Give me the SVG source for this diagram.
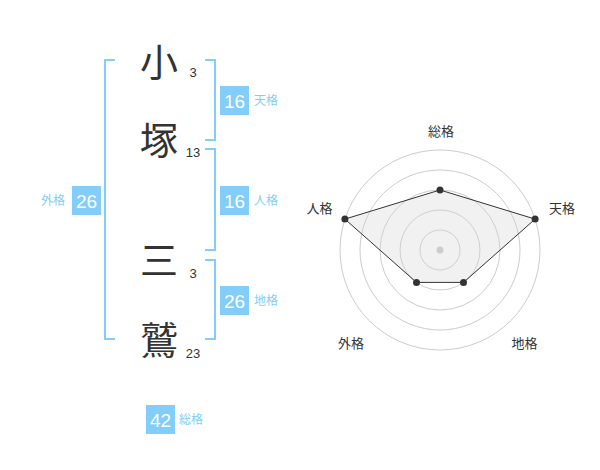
<svg xmlns="http://www.w3.org/2000/svg" width="600" height="470" viewBox="0 0 600 470">
<style>
.bg{fill:#ffffff}
.br{fill:none;stroke:#82cdf9;stroke-width:2}
.box{fill:#82cdf9}
.num{font-family:"Liberation Sans",Arial,sans-serif;font-size:19px;fill:#ffffff;text-anchor:middle}
.lab{font-family:"Noto Sans CJK JP","Noto Sans",sans-serif;font-size:12px;fill:#82cdf9}
.kanji{font-family:"Noto Sans CJK JP",sans-serif;font-size:38px;fill:#333333;text-anchor:middle}
.stk{font-family:"Liberation Sans",Arial,sans-serif;font-size:13px;fill:#333333;text-anchor:middle}
.ring{fill:none;stroke:#cccccc;stroke-width:1}
.poly{fill:#d8d8d8;fill-opacity:0.35;stroke:#333333;stroke-width:1}
.pt{fill:#333333}
.rl{font-family:"Noto Sans CJK JP","Noto Sans",sans-serif;font-size:13px;fill:#333333;text-anchor:middle}
</style>
<rect class="bg" x="0" y="0" width="600" height="470"/>
<g id="connectors">
<path class="br" d="M115,60 H105 V339 H115"/>
<path class="br" d="M205,60 H215 V140 H205"/>
<path class="br" d="M205,149 H215 V250 H205"/>
<path class="br" d="M205,260 H215 V339 H205"/>
</g>
<g id="char-ko"><text class="kanji" x="159" y="76">小</text><text class="stk" x="193" y="77">3</text></g>
<g id="char-tsuka"><text class="kanji" x="159" y="154">塚</text><text class="stk" x="193" y="157">13</text></g>
<g id="char-mi"><text class="kanji" x="159" y="274">三</text><text class="stk" x="193" y="278">3</text></g>
<g id="char-washi"><text class="kanji" x="159" y="354">鷲</text><text class="stk" x="193" y="358">23</text></g>
<g id="tenkaku"><rect class="box" x="220" y="86" width="29" height="29"/><text class="num" x="234.5" y="107.5">16</text><text class="lab" x="254" y="105">天格</text></g>
<g id="jinkaku"><rect class="box" x="220" y="186" width="29" height="29"/><text class="num" x="234.5" y="207.5">16</text><text class="lab" x="254" y="205">人格</text></g>
<g id="chikaku"><rect class="box" x="220" y="286" width="29" height="29"/><text class="num" x="234.5" y="307.5">26</text><text class="lab" x="254" y="305">地格</text></g>
<g id="gaikaku"><rect class="box" x="72" y="186" width="29" height="29"/><text class="num" x="86.5" y="207.5">26</text><text class="lab" x="41" y="205">外格</text></g>
<g id="soukaku"><rect class="box" x="146" y="405" width="29" height="29"/><text class="num" x="160.5" y="426.5">42</text><text class="lab" x="179" y="424">総格</text></g>
<g id="radar">
<circle class="ring" cx="440" cy="250" r="20"/>
<circle class="ring" cx="440" cy="250" r="40"/>
<circle class="ring" cx="440" cy="250" r="60"/>
<circle class="ring" cx="440" cy="250" r="80"/>
<circle class="ring" cx="440" cy="250" r="100"/>
<polygon class="poly" points="440,190 535.1,219.1 463.5,282.4 416.5,282.4 344.9,219.1"/>
<circle cx="440" cy="250" r="3.5" fill="#cccccc"/>
<circle class="pt" cx="440" cy="190" r="3.5"/>
<circle class="pt" cx="535.1" cy="219.1" r="3.5"/>
<circle class="pt" cx="463.5" cy="282.4" r="3.5"/>
<circle class="pt" cx="416.5" cy="282.4" r="3.5"/>
<circle class="pt" cx="344.9" cy="219.1" r="3.5"/>
<text class="rl" x="441" y="135.5">総格</text>
<text class="rl" x="562" y="213">天格</text>
<text class="rl" x="319.5" y="213">人格</text>
<text class="rl" x="351" y="347.5">外格</text>
<text class="rl" x="524.5" y="347.5">地格</text>
</g>
</svg>
